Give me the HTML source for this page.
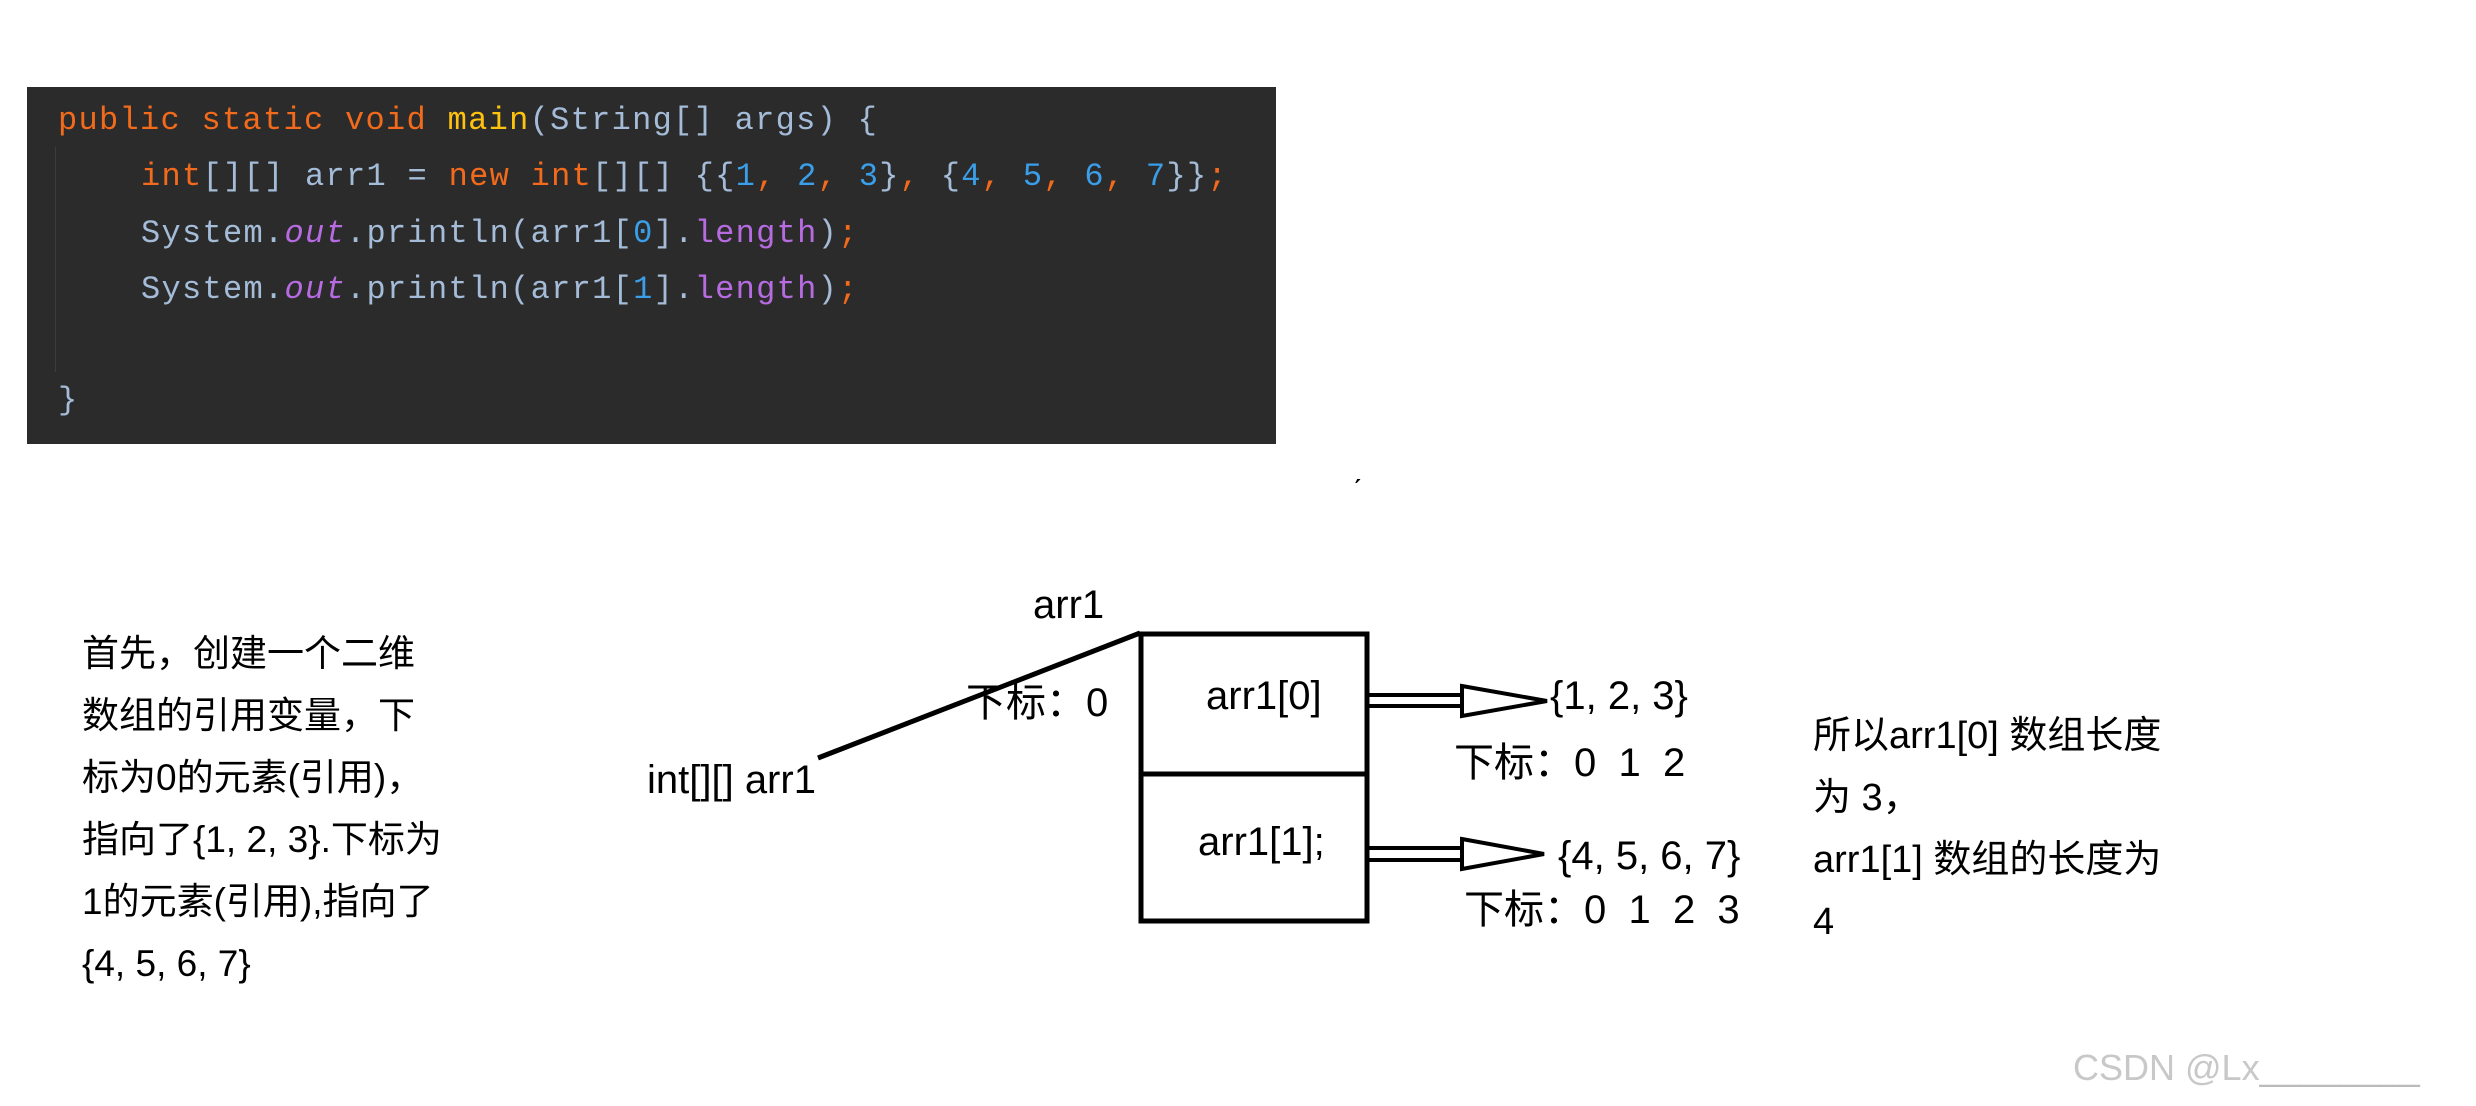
<!DOCTYPE html>
<html><head><meta charset="utf-8"><style>
body{margin:0;width:2476px;height:1106px;background:#fff;position:relative;overflow:hidden;font-family:"Liberation Sans","Noto Sans CJK SC",sans-serif;color:#000}
.code{position:absolute;left:27px;top:87px;width:1249px;height:357px;background:#2b2b2b}
.cl{position:absolute;font-family:"Liberation Mono",monospace;font-size:32px;letter-spacing:1.3px;line-height:36px;white-space:pre;color:#a4bcd8}
.k{color:#f26a1b}.m{color:#ffc20e}.n{color:#3a9ee8}.p{color:#b66be0;font-style:normal}.i{font-style:italic;color:#b66be0}
.t{position:absolute;white-space:pre;line-height:40px}
.d{position:absolute;white-space:pre;font-size:40px;line-height:40px}
</style></head><body>
<div class="code">
<div style="position:absolute;left:28px;top:60px;width:1px;height:225px;background:#3c3c3c"></div>
<div class="cl" style="left:31px;top:16px"><span class="k">public static void </span><span class="m">main</span>(String[] args) {</div>
<div class="cl" style="left:114px;top:72px"><span class="k">int</span>[][] arr1 = <span class="k">new int</span>[][] {{<span class="n">1</span><span class="k">,</span> <span class="n">2</span><span class="k">,</span> <span class="n">3</span>}<span class="k">,</span> {<span class="n">4</span><span class="k">,</span> <span class="n">5</span><span class="k">,</span> <span class="n">6</span><span class="k">,</span> <span class="n">7</span>}}<span class="k">;</span></div>
<div class="cl" style="left:114px;top:129px">System.<span class="i">out</span>.println(arr1[<span class="n">0</span>].<span class="p">length</span>)<span class="k">;</span></div>
<div class="cl" style="left:114px;top:185px">System.<span class="i">out</span>.println(arr1[<span class="n">1</span>].<span class="p">length</span>)<span class="k">;</span></div>
<div class="cl" style="left:31px;top:296px">}</div>
</div>
<div class="t" style="left:1352px;top:448px;font-size:30px">ˏ</div>

<svg style="position:absolute;left:0;top:0" width="2476" height="1106">
<line x1="818" y1="758" x2="1140" y2="633" stroke="#000" stroke-width="5"/>
<rect x="1141" y="634" width="226" height="287" fill="none" stroke="#000" stroke-width="5"/>
<line x1="1141" y1="774" x2="1367" y2="774" stroke="#000" stroke-width="5"/>
<g fill="none" stroke="#000" stroke-width="4">
<line x1="1369" y1="695" x2="1462" y2="695"/><line x1="1369" y1="706" x2="1462" y2="706"/>
<polygon points="1462,686 1547,701 1462,716"/>
<line x1="1369" y1="848" x2="1462" y2="848"/><line x1="1369" y1="860" x2="1462" y2="860"/>
<polygon points="1462,839 1544,854 1462,869"/>
</g>
</svg>

<div class="d" style="left:1033px;top:585px">arr1</div>
<div class="d" style="left:966px;top:683px">下标：0</div>
<div class="d" style="left:647px;top:760px">int[][] arr1</div>
<div class="d" style="left:1206px;top:676px">arr1[0]</div>
<div class="d" style="left:1198px;top:822px">arr1[1];</div>
<div class="d" style="left:1550px;top:676px">{1, 2, 3}</div>
<div class="d" style="left:1454px;top:743px">下标：0  1  2</div>
<div class="d" style="left:1558px;top:836px">{4, 5, 6, 7}</div>
<div class="d" style="left:1464px;top:890px">下标：0  1  2  3</div>

<div class="t" style="left:82px;top:623px;font-size:37px;line-height:62px">首先，创建一个二维
数组的引用变量，下
标为0的元素(引用)，
指向了{1, 2, 3}.下标为
1的元素(引用),指向了
{4, 5, 6, 7}</div>

<div class="t" style="left:1813px;top:705px;font-size:38px;line-height:62px">所以arr1[0] 数组长度
为 3，
arr1[1] 数组的长度为
4</div>

<div class="t" style="left:2073px;top:1048px;font-size:36px;color:#c8c8c8">CSDN @Lx<span style="color:#bbb">________</span></div>
</body></html>
